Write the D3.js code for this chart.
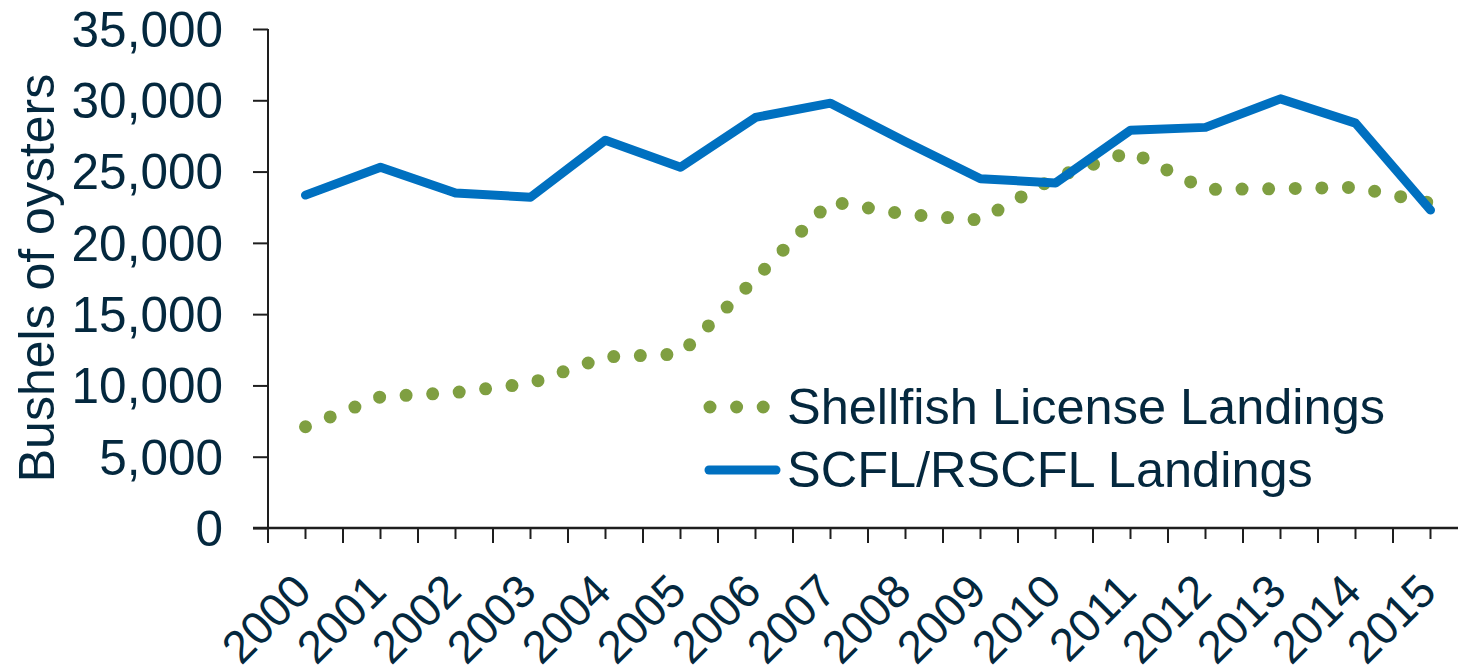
<!DOCTYPE html>
<html>
<head>
<meta charset="utf-8">
<script src="https://cdn.jsdelivr.net/npm/d3@7"></script>
<style>
  html, body { margin: 0; padding: 0; background: #fff; }
  svg { display: block; font-family: "Liberation Sans", Arial, sans-serif; }
</style>
</head>
<body>
<svg id="chart" width="1458" height="670"></svg>
<script>
// Oyster landings, bushels per year
const years = ["2000", "2001", "2002", "2003", "2004", "2005", "2006", "2007",
  "2008", "2009", "2010", "2011", "2012", "2013", "2014", "2015"];
const shellfishLicense = [7100, 9200, 9500, 10150, 12000, 12200, 17500, 22900,
  22000, 21600, 24600, 26400, 23750, 23800, 23900, 22800];
const scflRscfl = [23350, 25300, 23500, 23200, 27200, 25300, 28800, 29800,
  27100, 24500, 24200, 27900, 28100, 30100, 28400, 22300];
const yTicks = [0, 5000, 10000, 15000, 20000, 25000, 30000, 35000];
const legendLabels = ["Shellfish License Landings", "SCFL/RSCFL Landings"];

const textColor = "#04283e";
const axisColor = "#1e1e1e";
const green = "#7f9f41";
const blue = "#0070c0";

const svg = d3.select("#chart");
const plotLeft = 268, plotRight = 1468, plotTop = 29, plotBottom = 528;

const x = d3.scaleBand().domain(years).range([plotLeft, plotRight]).paddingInner(0).paddingOuter(0);
const xEdge = d3.scaleLinear().domain([0, years.length]).range([plotLeft, plotRight]);
const y = d3.scaleLinear().domain([0, 35000]).range([plotBottom, plotTop]);
const cx = d => x(d) + x.bandwidth() / 2;

// y axis
const yAxis = svg.append("g")
  .attr("transform", `translate(${plotLeft},0)`)
  .call(d3.axisLeft(y).tickValues(yTicks).tickSize(15).tickPadding(30)
    .tickFormat(d3.format(",")));
yAxis.select(".domain").remove();
yAxis.selectAll(".tick line").attr("stroke", axisColor).attr("stroke-width", 2);
yAxis.selectAll(".tick text")
  .attr("fill", textColor).style("font-size", "49.5px").attr("dy", "0.35em");
svg.append("line")
  .attr("x1", plotLeft).attr("x2", plotLeft).attr("y1", plotTop).attr("y2", plotBottom + 15)
  .attr("stroke", axisColor).attr("stroke-width", 2);

// x axis: long ticks on category edges, short ticks at centres
svg.append("line")
  .attr("x1", plotLeft - 15).attr("x2", plotRight).attr("y1", plotBottom).attr("y2", plotBottom)
  .attr("stroke", axisColor).attr("stroke-width", 2.5);
svg.append("g")
  .selectAll("line")
  .data(d3.range(1, years.length + 1))
  .join("line")
  .attr("x1", d => xEdge(d)).attr("x2", d => xEdge(d))
  .attr("y1", plotBottom).attr("y2", plotBottom + 15)
  .attr("stroke", axisColor).attr("stroke-width", 2);
svg.append("g")
  .selectAll("line")
  .data(years)
  .join("line")
  .attr("x1", d => cx(d)).attr("x2", d => cx(d))
  .attr("y1", plotBottom).attr("y2", plotBottom + 11)
  .attr("stroke", axisColor).attr("stroke-width", 2);
svg.append("g")
  .selectAll("text")
  .data(years)
  .join("text")
  .attr("transform", d => `translate(${cx(d) + 8},${plotBottom + 66}) rotate(-45)`)
  .attr("text-anchor", "end")
  .attr("fill", textColor)
  .style("font-size", "46px")
  .text(d => d);

// y axis title
svg.append("text")
  .attr("transform", `translate(54,278) rotate(-90)`)
  .attr("text-anchor", "middle")
  .attr("fill", textColor)
  .style("font-size", "50px")
  .text("Bushels of oysters");

const line = d3.line().x((d, i) => cx(years[i])).y(d => y(d));

svg.append("path")
  .datum(shellfishLicense)
  .attr("d", line)
  .attr("fill", "none")
  .attr("stroke", green)
  .attr("stroke-width", 13)
  .attr("stroke-linecap", "round")
  .attr("stroke-dasharray", "0 26.6");

svg.append("path")
  .datum(scflRscfl)
  .attr("d", line)
  .attr("fill", "none")
  .attr("stroke", blue)
  .attr("stroke-width", 9)
  .attr("stroke-linejoin", "round")
  .attr("stroke-linecap", "round");

// legend
const legend = svg.append("g");
legend.append("line")
  .attr("x1", 710).attr("x2", 764).attr("y1", 407).attr("y2", 407)
  .attr("stroke", green).attr("stroke-width", 13)
  .attr("stroke-linecap", "round").attr("stroke-dasharray", "0 26.6");
legend.append("line")
  .attr("x1", 709).attr("x2", 776).attr("y1", 470).attr("y2", 470)
  .attr("stroke", blue).attr("stroke-width", 9).attr("stroke-linecap", "round");
legend.selectAll("text")
  .data(legendLabels)
  .join("text")
  .attr("x", 787)
  .attr("y", (d, i) => 424 + i * 63)
  .attr("fill", textColor)
  .style("font-size", "50.5px")
  .text(d => d);
</script>
</body>
</html>
